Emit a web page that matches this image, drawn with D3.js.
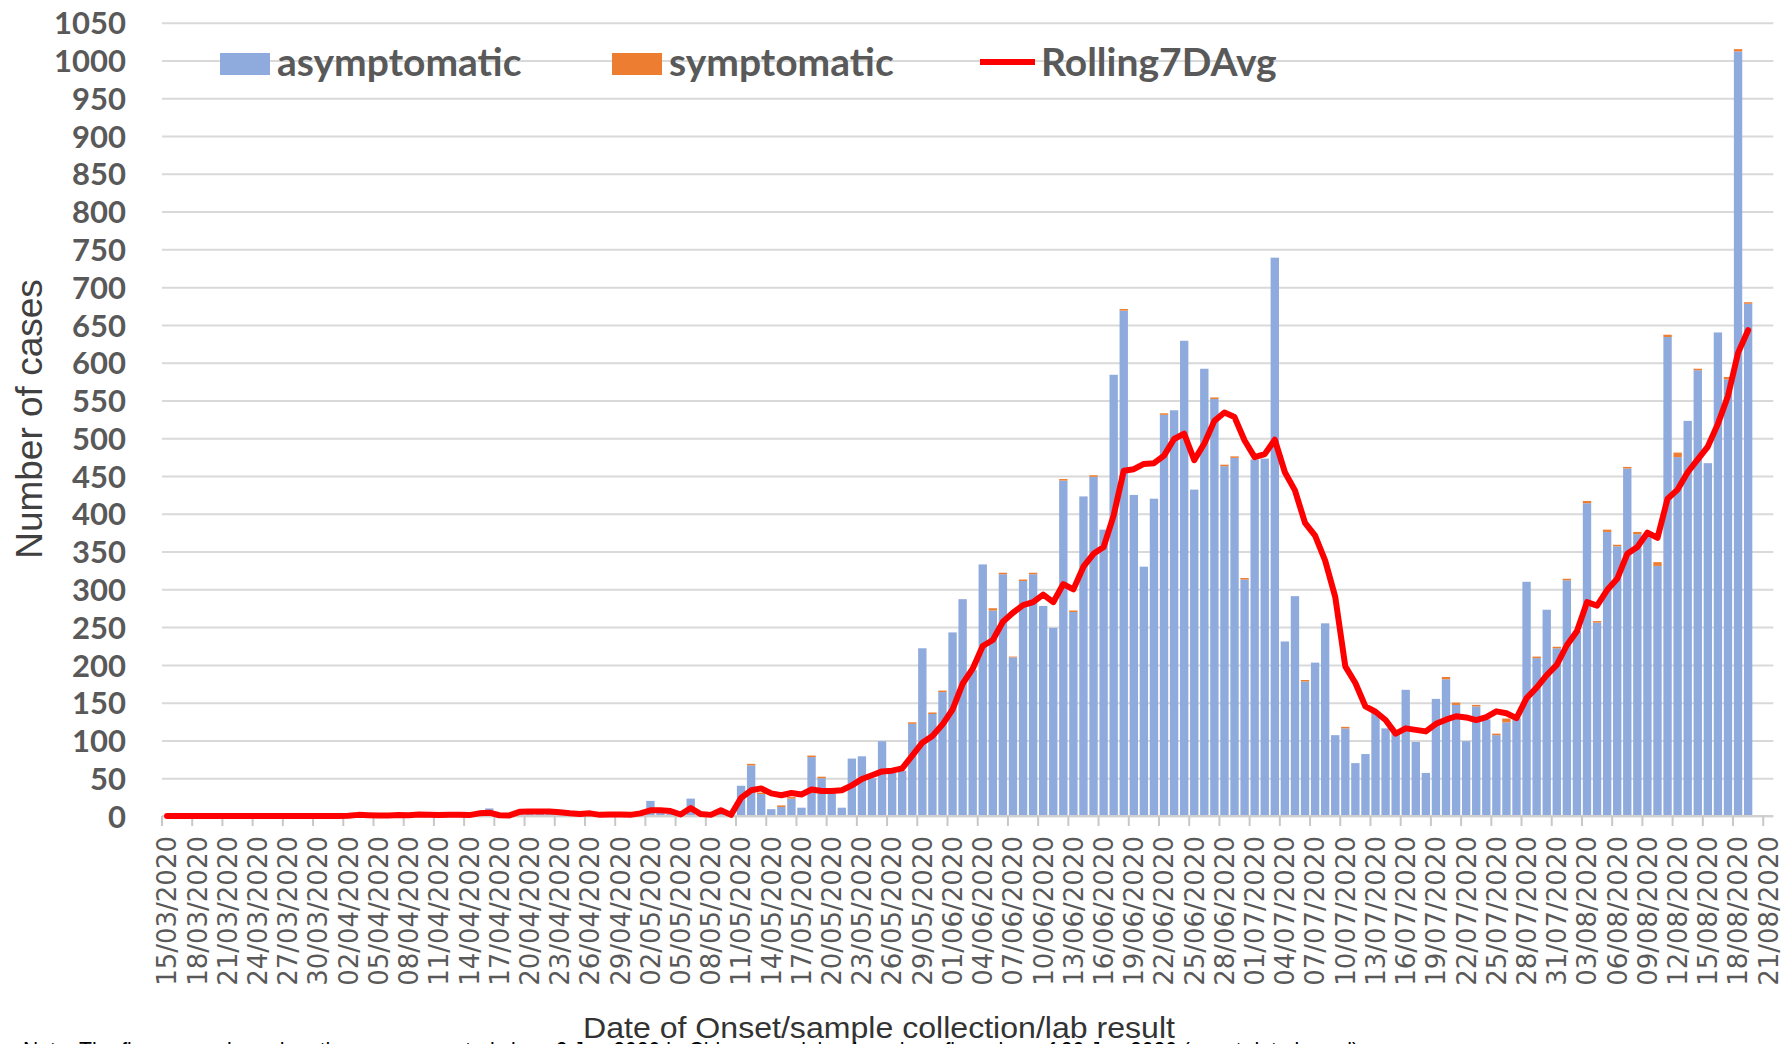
<!DOCTYPE html>
<html>
<head>
<meta charset="utf-8">
<script src="https://cdn.jsdelivr.net/npm/d3@7"></script>
<style>
  html, body { margin: 0; padding: 0; background: #fff; overflow: hidden; }
  svg { display: block; }
</style>
</head>
<body>
<div class="chart"></div>
<script>
// daily cases by date of onset / sample collection / lab result
// bars run 15/03/2020 .. 19/08/2020, the axis goes on to 21/08/2020
const firstDay = new Date(2020, 2, 15);
const lastDay = new Date(2020, 7, 21);

const asymptomatic = [
  0, 0, 0, 0, 0, 0, 0, 0, 0, 0,
  0, 0, 0, 0, 0, 0, 0, 0, 0, 2,
  0, 1, 0, 1, 0, 2, 1, 0, 1, 2,
  0, 3, 10, 0, 1, 6, 5, 6, 7, 4,
  2, 3, 1, 2, 1, 2, 1, 4, 20, 6,
  3, 0, 23, 1, 0, 8, 1, 40, 67, 29,
  9, 12, 23, 11, 78, 50, 30, 11, 76, 79,
  50, 99, 57, 60, 122, 222, 135, 164, 243, 287,
  193, 333, 272, 320, 210, 311, 320, 278, 249, 444,
  270, 423, 449, 379, 584, 669, 425, 330, 420, 531,
  537, 629, 432, 592, 552, 463, 474, 313, 472, 473,
  739, 231, 291, 178, 203, 255, 107, 116, 70, 82,
  138, 116, 110, 167, 98, 57, 155, 181, 147, 99,
  145, 128, 107, 124, 130, 310, 209, 273, 222, 312,
  245, 414, 256, 376, 357, 460, 373, 372, 331, 634,
  475, 523, 590, 467, 640, 578, 1012, 678
];

const symptomatic = [
  0, 0, 0, 0, 0, 0, 0, 0, 0, 0,
  0, 0, 0, 0, 0, 0, 0, 0, 0, 0,
  0, 0, 0, 0, 0, 0, 0, 0, 0, 0,
  0, 0, 0, 0, 0, 0, 0, 0, 0, 0,
  0, 0, 0, 0, 0, 0, 0, 0, 0, 0,
  0, 0, 0, 0, 0, 0, 0, 0, 2, 2,
  0, 2, 2, 0, 2, 2, 0, 0, 0, 0,
  0, 0, 0, 0, 2, 0, 2, 2, 0, 0,
  0, 0, 3, 2, 1, 2, 2, 0, 0, 2,
  2, 0, 2, 0, 0, 2, 0, 0, 0, 2,
  0, 0, 0, 0, 2, 2, 2, 2, 0, 0,
  0, 0, 0, 2, 0, 0, 0, 2, 0, 0,
  0, 0, 0, 0, 0, 0, 0, 3, 3, 0,
  2, 0, 2, 5, 0, 0, 2, 0, 2, 2,
  0, 3, 2, 3, 2, 2, 3, 0, 5, 3,
  6, 0, 2, 0, 0, 3, 3, 2
];

const rolling7DAvg = [
  0, 0, 0, 0, 0, 0, 0, 0, 0, 0,
  0, 0, 0, 0, 0, 0, 0, 0, 0.3, 1.5,
  1, 0.5, 0.7, 1.3, 1, 2, 1.5, 1.2, 1.5, 1.8,
  1.2, 3.5, 4.4, 1, 0.8, 5.5, 6, 6, 6, 5,
  3.5, 2.5, 3.5, 1.5, 2, 2, 1.5, 3.5, 7.5, 7.5,
  6.5, 2, 10.5, 2.5, 1.5, 7.5, 1.5, 24, 34, 36.5,
  30, 27.5, 30.5, 28.5, 35, 33, 33, 34, 40.5, 49,
  54, 59, 60, 63, 80, 97, 106, 121, 141, 175,
  195, 225, 233, 257, 269, 279, 283, 293, 283, 307,
  300, 330, 347, 356, 398, 457, 459, 466, 467, 477,
  499, 506, 471, 493, 523, 534, 528, 497, 475, 479,
  498, 455, 431, 388, 371, 338, 290, 198, 176, 145,
  138, 127, 109, 116, 114, 112, 122, 127.5, 132, 130.5,
  127, 131, 138.5, 136, 129.5, 156, 170, 186.5, 200, 226,
  244.5, 283, 278.5, 299, 314, 347, 356, 375, 368, 420,
  432, 455, 472, 489, 519, 556, 613, 643
];

const tickLabels = [
  '15/03/2020', '18/03/2020', '21/03/2020', '24/03/2020', '27/03/2020', '30/03/2020',
  '02/04/2020', '05/04/2020', '08/04/2020', '11/04/2020', '14/04/2020', '17/04/2020',
  '20/04/2020', '23/04/2020', '26/04/2020', '29/04/2020', '02/05/2020', '05/05/2020',
  '08/05/2020', '11/05/2020', '14/05/2020', '17/05/2020', '20/05/2020', '23/05/2020',
  '26/05/2020', '29/05/2020', '01/06/2020', '04/06/2020', '07/06/2020', '10/06/2020',
  '13/06/2020', '16/06/2020', '19/06/2020', '22/06/2020', '25/06/2020', '28/06/2020',
  '01/07/2020', '04/07/2020', '07/07/2020', '10/07/2020', '13/07/2020', '16/07/2020',
  '19/07/2020', '22/07/2020', '25/07/2020', '28/07/2020', '31/07/2020', '03/08/2020',
  '06/08/2020', '09/08/2020', '12/08/2020', '15/08/2020', '18/08/2020', '21/08/2020'
];

const yTicks = [0, 50, 100, 150, 200, 250, 300, 350, 400, 450, 500,
  550, 600, 650, 700, 750, 800, 850, 900, 950, 1000, 1050];

const seriesNames = ['asymptomatic', 'symptomatic', 'Rolling7DAvg'];
const colors = { asymptomatic: '#8FAADC', symptomatic: '#ED7D31', line: '#FF0000' };

const width = 1783;
const height = 1044;
const plot = { left: 162, right: 1773.3, top: 22.7, bottom: 816 };

const fmt = d3.timeFormat('%d/%m/%Y');
const categories = d3.timeDay.range(firstDay, d3.timeDay.offset(lastDay, 1)).map(fmt);

const rows = asymptomatic.map((a, i) => ({
  date: categories[i],
  asymptomatic: a,
  symptomatic: symptomatic[i],
  avg: rolling7DAvg[i]
}));

const svg = d3.select('.chart')
  .append('svg')
  .attr('width', width)
  .attr('height', height);

// category slots (no padding) for ticks + labels, padded band for bars
const xSlot = d3.scaleBand()
  .domain(categories)
  .range([plot.left, plot.right]);

const x = d3.scaleBand()
  .domain(categories)
  .range([plot.left, plot.right])
  .paddingInner(0.17)
  .paddingOuter(0.085);

const y = d3.scaleLinear()
  .domain([0, 1050])
  .range([plot.bottom, plot.top]);

// gridlines + y labels
const yAxis = svg.append('g')
  .attr('transform', `translate(${plot.left},0)`)
  .call(d3.axisLeft(y)
    .tickValues(yTicks)
    .tickSize(-(plot.right - plot.left))
    .tickPadding(36)
    .tickFormat(d3.format('d')));

yAxis.select('.domain').remove();
yAxis.selectAll('.tick line')
  .attr('stroke', '#D9D9D9')
  .attr('stroke-width', 2);
yAxis.selectAll('.tick text')
  .attr('fill', '#595959')
  .attr('dy', '0.36em')
  .style('font-family', 'Lato, "Open Sans", sans-serif')
  .style('font-weight', 700)
  .style('font-size', '31px');

// stacked bars
const stack = d3.stack().keys(['asymptomatic', 'symptomatic']);
const layers = stack(rows);

svg.append('g')
  .selectAll('g')
  .data(layers)
  .enter()
    .append('g')
    .attr('fill', d => colors[d.key])
    .selectAll('rect')
    .data(d => d)
    .enter()
      .append('rect')
      .attr('x', d => x(d.data.date))
      .attr('width', x.bandwidth())
      .attr('y', d => y(d[1]))
      .attr('height', d => Math.max(0, y(d[0]) - y(d[1])));

// x axis line and tick marks (between categories)
const xAxisG = svg.append('g');
xAxisG.append('line')
  .attr('x1', plot.left)
  .attr('x2', plot.right)
  .attr('y1', y(0))
  .attr('y2', y(0))
  .attr('stroke', '#D0D0D0')
  .attr('stroke-width', 2);

xAxisG.selectAll('line.tick')
  .data(tickLabels)
  .enter()
    .append('line')
    .attr('class', 'tick')
    .attr('x1', d => xSlot(d))
    .attr('x2', d => xSlot(d))
    .attr('y1', y(0))
    .attr('y2', y(0) + 10)
    .attr('stroke', '#C8C8C8')
    .attr('stroke-width', 2);

xAxisG.selectAll('text')
  .data(tickLabels)
  .enter()
    .append('text')
    .attr('transform', d => `translate(${xSlot(d) + xSlot.bandwidth() / 2},836) rotate(-90)`)
    .attr('dy', '0.36em')
    .attr('text-anchor', 'end')
    .attr('fill', '#595959')
    .style('font-family', '"DejaVu Sans", sans-serif')
    .style('font-size', '26px')
    .text(d => d);

// rolling average
const line = d3.line()
  .x(d => x(d.date) + x.bandwidth() / 2)
  .y(d => y(d.avg));

svg.append('path')
  .datum(rows)
  .attr('fill', 'none')
  .attr('stroke', colors.line)
  .attr('stroke-width', 6)
  .attr('stroke-linejoin', 'round')
  .attr('stroke-linecap', 'round')
  .attr('d', line);

// legend
const legendItems = [
  { name: seriesNames[0], kind: 'rect', color: colors.asymptomatic, x: 220 },
  { name: seriesNames[1], kind: 'rect', color: colors.symptomatic, x: 612 },
  { name: seriesNames[2], kind: 'line', color: colors.line, x: 980 }
];

const legend = svg.append('g')
  .selectAll('g')
  .data(legendItems)
  .enter()
    .append('g')
    .attr('transform', d => `translate(${d.x},0)`);

legend.filter(d => d.kind === 'rect')
  .append('rect')
  .attr('x', 0)
  .attr('y', 53)
  .attr('width', 50)
  .attr('height', 22)
  .attr('fill', d => d.color);

legend.filter(d => d.kind === 'line')
  .append('line')
  .attr('x1', 0)
  .attr('x2', 55)
  .attr('y1', 62)
  .attr('y2', 62)
  .attr('stroke', d => d.color)
  .attr('stroke-width', 6);

legend.append('text')
  .attr('x', d => d.kind === 'line' ? 61 : 57)
  .attr('y', 76)
  .attr('fill', '#595959')
  .style('font-family', 'Lato, "Open Sans", sans-serif')
  .style('font-weight', 700)
  .style('font-size', '39px')
  .text(d => d.name);

// axis titles
svg.append('text')
  .attr('transform', 'translate(42,419) rotate(-90)')
  .attr('text-anchor', 'middle')
  .attr('fill', '#404040')
  .style('font-family', '"Liberation Sans", Arial, sans-serif')
  .style('font-size', '37px')
  .text('Number of cases');

svg.append('text')
  .attr('x', 583)
  .attr('y', 1038)
  .attr('textLength', 592)
  .attr('lengthAdjust', 'spacingAndGlyphs')
  .attr('fill', '#333')
  .style('font-family', '"Liberation Sans Narrow", "Liberation Sans", sans-serif')
  .style('font-size', '30px')
  .text('Date of Onset/sample collection/lab result');

// footnote, mostly cut off by the bottom edge (as in the source image)
svg.append('text')
  .attr('x', 23)
  .attr('y', 1059)
  .attr('textLength', 1336)
  .attr('lengthAdjust', 'spacingAndGlyphs')
  .attr('fill', '#000')
  .style('font-family', '"Liberation Sans", Arial, sans-serif')
  .style('font-size', '24px')
  .text('Note: The figures are based on the cases reported since 2 Jun 2020 in Chinese mainland, and confirmed as of 20 Jun 2020 (onset date based)');
</script>
</body>
</html>
